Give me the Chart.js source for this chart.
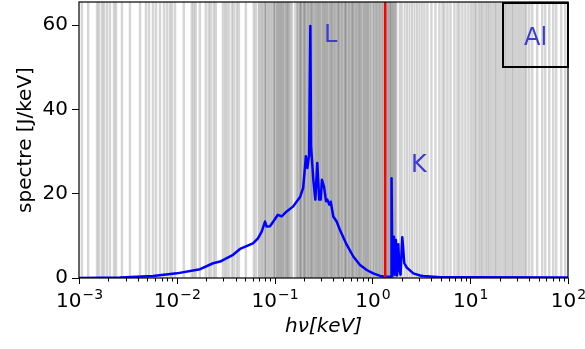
<!DOCTYPE html>
<html>
<head>
<meta charset="utf-8">
<script src="https://cdn.jsdelivr.net/npm/chart.js@4.4.0/dist/chart.umd.min.js"></script>
<style>
  html, body { margin: 0; padding: 0; background: #fff; }
</style>
</head>
<body>
<canvas id="spectreChart" width="585" height="349"></canvas>
<script>
// Spectre (hν en keV, spectre en J/keV)
const energy = [0.001, 0.00262, 0.00571, 0.0100, 0.0173, 0.0235, 0.0277, 0.0376, 0.0443, 0.0601,
    0.0676, 0.0738, 0.0798, 0.0830, 0.0897, 0.0970, 0.108, 0.118, 0.133, 0.155,
    0.182, 0.196, 0.209, 0.216, 0.225, 0.232, 0.236, 0.249, 0.261, 0.273,
    0.286, 0.296, 0.305, 0.320, 0.336, 0.346, 0.363, 0.375, 0.398, 0.431,
    0.466, 0.546, 0.638, 0.747, 0.875, 1.02, 1.20, 1.35, 1.49, 1.55,
    1.57, 1.60, 1.66, 1.70, 1.74, 1.79, 1.84, 1.89, 1.94, 2.02,
    2.12, 2.24, 2.42, 2.62, 3.07, 3.31, 4.91, 9.95, 100];
const spectre = [0.0, 0.1, 0.5, 1.1, 2.1, 3.5, 3.9, 5.5, 6.9, 8.2,
    9.4, 11.0, 13.4, 12.2, 12.3, 13.4, 15.0, 14.6, 15.8, 17.0,
    19.2, 21.4, 28.9, 26.1, 29.0, 59.8, 31.3, 23.3, 18.6, 27.3,
    18.6, 18.6, 23.3, 21.7, 18.2, 18.6, 17.4, 18.1, 14.6, 13.4,
    11.4, 7.9, 5.1, 3.1, 1.9, 1.1, 0.5, 0.3, 0.3, 0.3,
    23.7, 0.5, 9.8, 0.8, 9.0, 0.6, 8.0, 2.0, 0.8, 9.7,
    3.5, 2.5, 1.8, 1.1, 0.6, 0.5, 0.2, 0.15, 0.1];

// seuil K (ligne rouge)
const edgeEnergy = 1.35;

// raies (keV), groupées par intensité
const faintLines = [0.00107, 0.00124, 0.00153, 0.00160, 0.00172, 0.00180, 0.00193, 0.00207, 0.00228, 0.00239,
    0.00275, 0.00332, 0.00421, 0.00484, 0.00520, 0.00571, 0.00613, 0.00673, 0.00740, 0.00794,
    0.00851, 0.00893, 0.00959,
    0.0118, 0.0142, 0.0149, 0.0156, 0.0172, 0.0198, 0.0212, 0.0223, 0.0239, 0.0251,
    0.0365, 0.0383, 0.0410, 0.0431, 0.0508, 0.0613, 0.0643,
    0.162,
    3.40, 3.65, 4.01, 4.41, 4.84, 5.20, 5.45, 5.85, 6.28, 6.89, 7.40, 7.76, 8.32, 8.93, 9.59,
    40.1, 43.1, 48.4, 54.5, 58.5, 64.3, 70.6, 75.7, 85.1, 93.6];
const midLines = [0.0295, 0.0310, 0.0324, 0.0340,
    1.905, 1.995, 2.138, 2.265, 2.399, 2.541, 2.692, 2.851, 3.020, 3.199,
    10.2, 10.7, 11.2, 11.6, 12.2, 12.7, 13.2, 13.8, 14.5, 15.1, 15.7, 16.4, 17.2, 18.0, 18.6,
    19.5, 20.4, 21.4, 22.4, 23.2, 24.3, 25.4, 26.6, 27.5, 28.8, 30.2, 31.6, 33.1, 34.7, 36.3, 37.6];
const strongLines = [0.0689, 0.0723, 0.0757, 0.0794, 0.0813, 0.0853, 0.0893, 0.0936, 0.0982,
    0.100, 0.1047, 0.1072, 0.1109, 0.1148, 0.1175, 0.1216, 0.1259, 0.1303, 0.1349,
    0.1380, 0.1429, 0.1496, 0.1698, 0.1758, 0.1820, 0.1862, 0.1928, 0.1995, 0.2042,
    0.2113, 0.2188, 0.2265, 0.2344, 0.2399, 0.2483, 0.2570, 0.2661, 0.2754, 0.2818,
    0.2917, 0.3020, 0.3126, 0.3236, 0.3311, 0.3428, 0.3548, 0.3673, 0.3802, 0.3890,
    0.4027, 0.4169, 0.4315, 0.4467, 0.4571, 0.4732, 0.4898, 0.5070, 0.5248, 0.5370,
    0.5559, 0.5754, 0.5957, 0.6166, 0.6310, 0.6531, 0.6761, 0.6998, 0.7244, 0.7413,
    0.7674, 0.7943, 0.8222, 0.8511, 0.8710, 0.9016, 0.9333, 0.9661,
    1.012, 1.047, 1.084, 1.122, 1.161, 1.202, 1.245, 1.288, 1.349, 1.380,
    1.429, 1.462, 1.514, 1.549, 1.603, 1.641, 1.698, 1.758];

// étiquettes des couches
const shellNames = ['L', 'K'];
const shellEnergy = [0.320, 2.48];
const shellHeight = [55.9, 25.2];
const elementName = 'Al';

// axes
const xTickExponents = [-3, -2, -1, 0, 1, 2];
const yTicks = [0, 20, 40, 60];
const yMax = 65.5;

const FONT = "'DejaVu Sans', sans-serif";

const spectrumPoints = energy.map((e, i) => ({ x: e, y: spectre[i] }));

const decorPlugin = {
    id: 'decor',
    beforeDatasetsDraw(chart) {
        const { ctx, chartArea: a, scales: { x } } = chart;
        ctx.save();
        ctx.beginPath();
        ctx.rect(a.left, a.top, a.right - a.left, a.bottom - a.top);
        ctx.clip();
        [[faintLines, 0.16, 2.5], [midLines, 0.18, 2], [strongLines, 0.24, 2]].forEach(([list, alpha, w]) => {
            ctx.strokeStyle = 'rgba(0,0,0,' + alpha + ')';
            ctx.lineWidth = w;
            list.forEach(e => {
                const px = x.getPixelForValue(e);
                ctx.beginPath();
                ctx.moveTo(px, a.top);
                ctx.lineTo(px, a.bottom);
                ctx.stroke();
            });
        });
        ctx.restore();
    },
    afterDatasetsDraw(chart) {
        const { ctx, chartArea: a, scales: { x, y } } = chart;
        ctx.save();

        // labels L / K
        ctx.fillStyle = '#3c3cd0';
        ctx.font = '24px ' + FONT;
        ctx.textAlign = 'left';
        ctx.textBaseline = 'alphabetic';
        shellNames.forEach((n, i) => {
            ctx.fillText(n, x.getPixelForValue(shellEnergy[i]), y.getPixelForValue(shellHeight[i]));
        });

        // element box
        const bw = 65, bh = 64;
        ctx.strokeStyle = '#000';
        ctx.lineWidth = 2;
        ctx.strokeRect(a.right - bw, a.top + 1, bw, bh);
        ctx.textAlign = 'center';
        ctx.fillText(elementName, a.right - bw / 2, a.top + 43);

        // frame
        ctx.lineWidth = 1.2;
        ctx.strokeStyle = '#000';
        ctx.strokeRect(a.left, a.top, a.right - a.left, a.bottom - a.top);

        // x ticks (major + minor)
        ctx.lineWidth = 1;
        xTickExponents.forEach((p, k) => {
            const px = Math.round(x.getPixelForValue(Math.pow(10, p))) + 0.5;
            ctx.beginPath();
            ctx.moveTo(px, a.bottom);
            ctx.lineTo(px, a.bottom + 6);
            ctx.stroke();
            if (k < xTickExponents.length - 1) {
                for (let m = 2; m <= 9; m++) {
                    const mx = Math.round(x.getPixelForValue(m * Math.pow(10, p))) + 0.5;
                    ctx.beginPath();
                    ctx.moveTo(mx, a.bottom);
                    ctx.lineTo(mx, a.bottom + 3.5);
                    ctx.stroke();
                }
            }
        });

        // x tick labels 10^p
        ctx.fillStyle = '#000';
        ctx.textAlign = 'left';
        xTickExponents.forEach(p => {
            const px = x.getPixelForValue(Math.pow(10, p));
            const sup = (p < 0 ? '\u2212' : '') + Math.abs(p);
            ctx.font = '20px ' + FONT;
            const wBase = ctx.measureText('10').width;
            ctx.font = '14px ' + FONT;
            const wSup = ctx.measureText(sup).width;
            const left = px - (wBase + wSup) / 2;
            ctx.font = '20px ' + FONT;
            ctx.fillText('10', left, a.bottom + 29);
            ctx.font = '14px ' + FONT;
            ctx.fillText(sup, left + wBase + 1, a.bottom + 21);
        });

        // axis titles
        ctx.font = '20px ' + FONT;
        ctx.textAlign = 'center';
        ctx.save();
        ctx.translate(26, (a.top + a.bottom) / 2);
        ctx.rotate(-Math.PI / 2);
        ctx.textBaseline = 'middle';
        ctx.fillText('spectre [J/keV]', 0, 0);
        ctx.restore();
        ctx.font = 'italic 20px ' + FONT;
        ctx.fillText('h\u03bd[keV]', (a.left + a.right) / 2, a.bottom + 54);

        ctx.restore();
    }
};

new Chart(document.getElementById('spectreChart'), {
    type: 'line',
    data: {
        datasets: [{
            // seuil
            data: [{ x: edgeEnergy, y: 0 }, { x: edgeEnergy, y: yMax }],
            borderColor: '#ff0000',
            borderWidth: 2.5,
            pointRadius: 0
        }, {
            label: 'spectre',
            data: spectrumPoints,
            borderColor: '#0000ff',
            borderWidth: 2.5,
            borderJoinStyle: 'round',
            borderCapStyle: 'round',
            pointRadius: 0,
            tension: 0
        }]
    },
    options: {
        responsive: false,
        animation: false,
        devicePixelRatio: 1,
        layout: { padding: { top: 2, right: 17, left: 0, bottom: 0 } },
        plugins: {
            legend: { display: false },
            tooltip: { enabled: false }
        },
        scales: {
            x: {
                type: 'logarithmic',
                min: 1e-3,
                max: 1e2,
                ticks: { display: false },
                grid: { display: false },
                border: { display: false },
                afterFit: s => { s.height = 71; s.paddingLeft = 0; s.paddingRight = 0; }
            },
            y: {
                min: 0,
                max: yMax,
                afterBuildTicks: s => { s.ticks = yTicks.map(v => ({ value: v })); },
                ticks: {
                    color: '#000',
                    padding: 4,
                    font: { family: FONT, size: 20 }
                },
                grid: {
                    drawOnChartArea: false,
                    tickLength: 7,
                    color: '#000'
                },
                border: { display: false },
                afterFit: s => { s.width = 79; s.paddingTop = 0; s.paddingBottom = 0; }
            }
        }
    },
    plugins: [decorPlugin]
});
</script>
</body>
</html>
